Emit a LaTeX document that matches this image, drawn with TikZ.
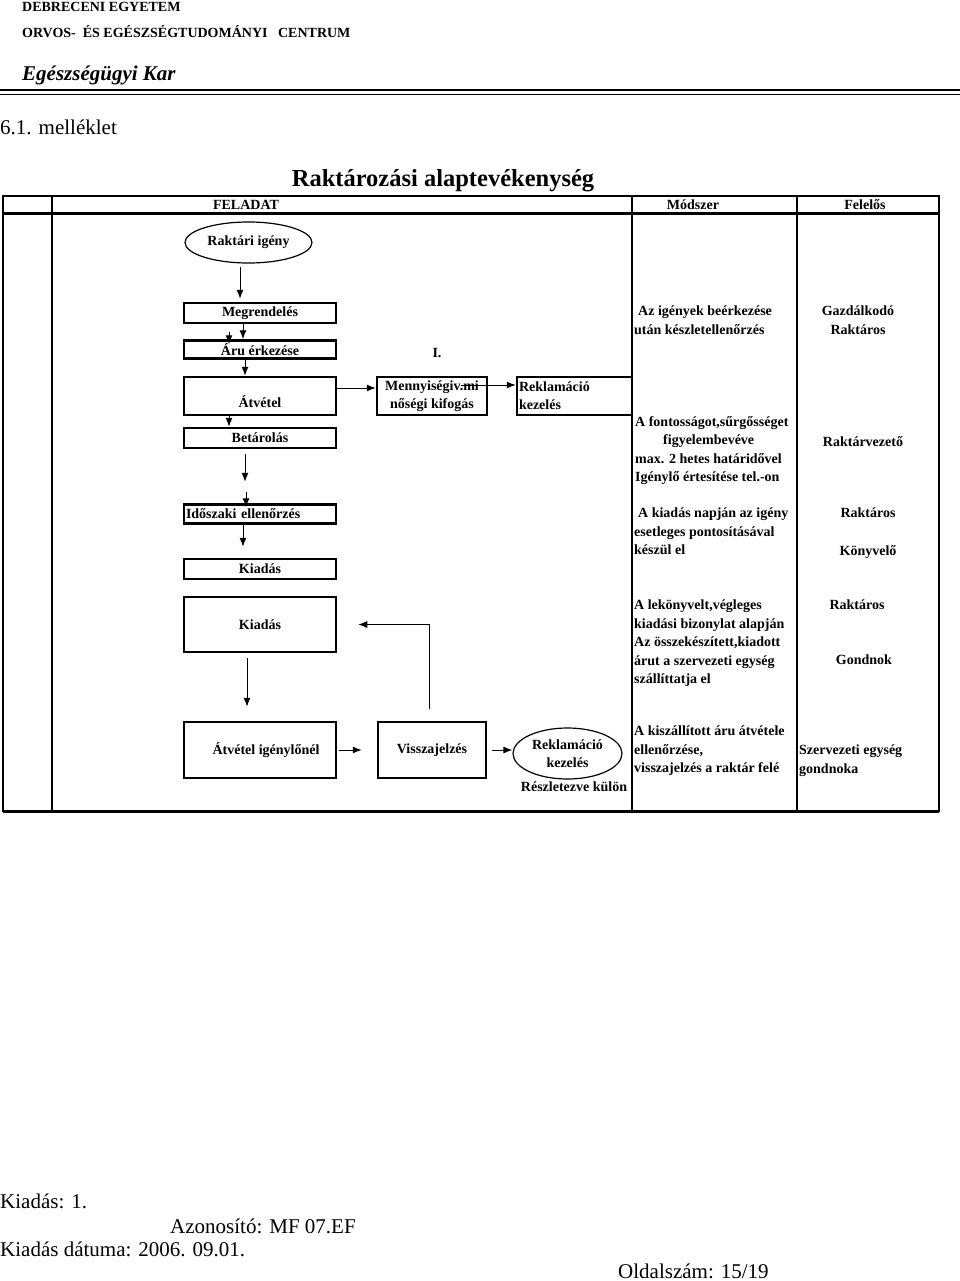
\documentclass[tikz,border=0pt]{standalone}
\usepackage{fontspec}
\setmainfont{Liberation Serif}
\usetikzlibrary{shapes.geometric,arrows.meta}

\newcommand\boxfont{\fontsize{14}{18}\selectfont\bfseries}

\tikzset{
  box/.style={draw, line width=2.5pt, minimum width=152pt, inner sep=1pt, font=\boxfont, align=center},
  oval/.style={draw, ellipse, line width=1.2pt, inner sep=0pt, font=\boxfont, align=center},
  arr/.style={-{Latex[length=9pt,width=7pt]}, line width=1pt},
  head/.style={font=\boxfont, inner sep=0pt},
  method/.style={font=\fontsize{14}{18.5}\selectfont\bfseries, inner sep=0pt, align=left, anchor=north west},
  resp/.style={font=\fontsize{14}{18.5}\selectfont\bfseries, inner sep=0pt, align=center, anchor=north},
  foot/.style={font=\fontsize{21}{23}\selectfont, inner sep=0pt, anchor=west}
}

\begin{document}
\begin{tikzpicture}[x=1pt,y=-1pt]
    \useasboundingbox (0,0) rectangle (960,1281);

    % page header
    \node[anchor=west, inner sep=0pt, font=\fontsize{14}{16}\selectfont\bfseries] (univ) at (22,7) {DEBRECENI EGYETEM};
    \node[anchor=west, inner sep=0pt, font=\fontsize{14}{16}\selectfont\bfseries] (centrum) at (22,32) {ORVOS- \ ÉS EGÉSZSÉGTUDOMÁNYI \ \ CENTRUM};
    \node[anchor=west, inner sep=0pt, font=\fontsize{21}{23}\selectfont\bfseries\itshape] (kar) at (22,75) {Egészségügyi Kar};
    \draw[line width=2pt] (0,90.5) -- (960,90.5);
    \draw[line width=0.8pt] (0,94) -- (960,94);
    \node[foot] (mell) at (0,127) {6.1. melléklet};
    \node[inner sep=0pt, font=\fontsize{24.5}{26}\selectfont\bfseries] (cim) at (443,181) {Raktározási alaptevékenység};

    % table frame
    \draw[line width=2pt] (3,196) rectangle (939,811);
    \draw[line width=3pt] (3,214) -- (939,214);
    \draw[line width=3pt] (3,811) -- (939,811);
    \draw[line width=2.5pt] (52,196) -- (52,811);
    \draw[line width=1.2pt] (632,196) -- (632,811);
    \draw[line width=1.2pt] (797,196) -- (797,811);
    \node[head] (feladat) at (246,205) {FELADAT};
    \node[head] (modszer) at (693,205) {Módszer};
    \node[head] (felelos) at (865,205) {Felelős};

    % flow
    \node[oval, minimum width=127pt, minimum height=41pt] (igeny) at (248.5,242.5) {Raktári igény};
    \node[box, minimum height=20pt] (megr) at (260,313) {Megrendelés};
    \node[box, minimum height=18pt] (aru) at (260,349.5) {Áru érkezése};
    \node[box, minimum height=38pt, text height=26pt, text depth=3pt] (atvetel) at (260,396) {Átvétel};
    \node[box, minimum width=110pt, minimum height=38pt] (menny) at (432,396) {Mennyiségiv.mi\\nőségi kifogás};
    \node[box, minimum width=115pt, minimum height=38pt, text width=111pt, align=left] (rekl) at (574.5,396) {Reklamáció\\kezelés};
    \node[font=\boxfont, inner sep=0pt] (egy) at (437,353) {I.};
    \node[box, minimum height=20pt] (betar) at (260,438) {Betárolás};
    \node[box, minimum height=19pt, text width=148pt, align=left] (idosz) at (260,514) {Időszaki ellenőrzés};
    \node[box, minimum height=20pt] (kiad) at (260,569) {Kiadás};
    \node[box, minimum height=55pt] (kiadb) at (260,624.5) {Kiadás};
    \node[box, minimum height=56pt] (atvig) at (260,750) {\hspace*{12pt}Átvétel igénylőnél};
    \node[box, minimum width=108pt, minimum height=56pt] (vissza) at (432,750) {Visszajelzés};
    \node[oval, minimum width=109pt, minimum height=51pt] (reklb) at (567.5,753.5) {Reklamáció\\kezelés};
    \node[font=\boxfont, inner sep=0pt] (reszl) at (574,787) {Részletezve külön};

    \draw[arr] ([xshift=-8.5,yshift=-3]igeny.south) -- ([xshift=-8.5,yshift=3]igeny.south |- megr.north);
    \draw[arr] ([xshift=-17]megr.south) -- ([xshift=-17]megr.south |- aru.north);
    \draw[arr] ([xshift=-31,yshift=-8]megr.south) -- ([xshift=-31,yshift=-5]megr.south |- aru.north);
    \draw[arr] ([xshift=-15]aru.south) -- ([xshift=-15]aru.south |- atvetel.north);
    \draw[arr] ([yshift=8]atvetel.east) -- ([yshift=8]menny.west);
    \draw[arr] ([xshift=-27,yshift=11]menny.east) -- ([yshift=11]rekl.west);
    \draw[arr] ([xshift=-31]atvetel.south) -- ([xshift=-31]atvetel.south |- betar.north);
    \draw[arr] ([xshift=-15,yshift=-5]betar.south) -- ([xshift=-15,yshift=21.5]betar.south |- idosz.north);
    \draw[arr] ([xshift=-14,yshift=11.5]idosz.north) -- ([xshift=-14,yshift=-4]idosz.north);
    \draw[arr] ([xshift=-17]idosz.south) -- ([xshift=-17,yshift=11]idosz.south |- kiad.north);
    \draw[arr] ([xshift=-13,yshift=-5]kiadb.south) -- ([xshift=-13,yshift=14]kiadb.south |- atvig.north);
    \draw[arr] ([xshift=2]atvig.east) -- ([xshift=-15]vissza.west);
    \draw[arr] ([xshift=5]vissza.east) -- (vissza.east -| reklb.west);
    \draw[arr] ([xshift=-3,yshift=12]vissza.north) |- ([xshift=21]kiadb.east);

    % method column
    \node[method] (m1) at (634,306) {\hspace*{4pt}Az igények beérkezése\\után készletellenőrzés};
    \node[method] (m2) at (635,416) {A fontosságot,sűrgősséget\\\hspace*{28pt}figyelembevéve\\max. 2 hetes határidővel\\Igénylő értesítése tel.-on};
    \node[method] (m3) at (634,508) {\hspace*{4pt}A kiadás napján az igény\\esetleges pontosításával\\készül el};
    \node[method] (m4) at (634,600) {A lekönyvelt,végleges\\kiadási bizonylat alapján\\Az összekészített,kiadott\\árut a szervezeti egység\\szállíttatja el};
    \node[method] (m5) at (634,726) {A kiszállított áru átvétele\\ellenőrzése,\\visszajelzés a raktár felé};

    % responsible column
    \node[resp] (r1) at (858,306) {Gazdálkodó\\Raktáros};
    \node[resp] (r2) at (863,436) {Raktárvezető};
    \node[resp] (r3) at (868,508) {Raktáros};
    \node[resp] (r4) at (868,545) {Könyvelő};
    \node[resp] (r5) at (857,600) {Raktáros};
    \node[resp] (r6) at (864,655) {Gondnok};
    \node[method] (r7) at (799,745) {Szervezeti egység\\gondnoka};

    % footer
    \node[foot] (kiadas) at (0,1201) {Kiadás: 1.};
    \node[foot] (azon) at (170,1226) {Azonosító: MF 07.EF};
    \node[foot] (datum) at (0,1249) {Kiadás dátuma: 2006. 09.01.};
    \node[foot] (oldal) at (618,1271) {Oldalszám: 15/19};
\end{tikzpicture}
\end{document}
